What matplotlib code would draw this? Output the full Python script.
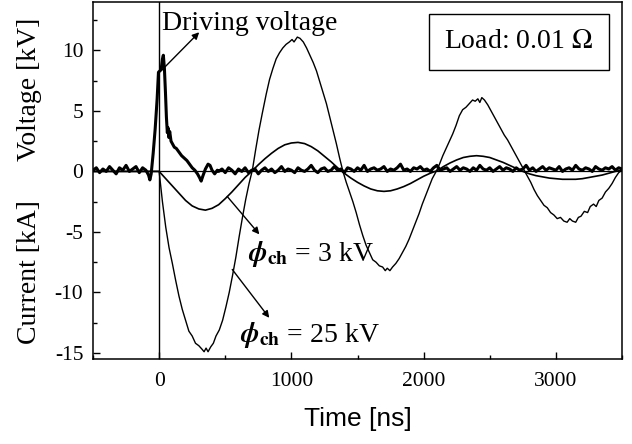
import matplotlib
matplotlib.use("Agg")
import matplotlib.pyplot as plt
import numpy as np

# current traces [kA]
t_25kv = [-500, -300, -100, 0, 25, 50, 75, 100, 125, 150, 175, 200, 225, 250, 275, 300, 325, 340, 355, 370,
          390, 410, 430, 455, 480, 505, 530, 555, 580, 605, 630, 655, 680, 705, 730, 755, 780, 810, 835, 860,
          885, 910, 935, 960, 985, 1005, 1020, 1045, 1065, 1090, 1115, 1140, 1165, 1190, 1215, 1240, 1265, 1290,
          1315, 1340, 1365, 1390, 1415, 1440, 1465, 1490, 1515, 1540, 1565, 1590, 1615, 1640, 1665, 1690, 1710,
          1725, 1745, 1765, 1790, 1815, 1840, 1865, 1890, 1915, 1940, 1965, 1990, 2015, 2040, 2065, 2095, 2120,
          2145, 2170, 2195, 2220, 2245, 2270, 2295, 2320, 2345, 2370, 2390, 2410, 2425, 2440, 2460, 2485, 2510,
          2535, 2560, 2585, 2610, 2635, 2660, 2685, 2710, 2735, 2760, 2785, 2810, 2835, 2860, 2885, 2910, 2935,
          2960, 2985, 3010, 3035, 3060, 3085, 3105, 3125, 3150, 3170, 3190, 3215, 3240, 3260, 3285, 3305, 3325,
          3350, 3375, 3400, 3425, 3450, 3475, 3500]
i_25kv = [0, 0, 0, 0, -2.5, -4.6, -6.3, -7.6, -9.0, -10.3, -11.4, -12.3, -13.2, -13.6, -14.2, -14.4, -14.7, -14.9, -14.6, -14.9,
          -14.5, -14.2, -13.6, -13.1, -12.3, -11.2, -10.0, -8.6, -7.1, -5.4, -3.8, -2.3, -1.0, 0.1, 1.8, 3.4, 4.8, 6.4, 7.6, 8.5,
          9.3, 9.8, 10.2, 10.5, 10.7, 10.9, 10.7, 11.1, 11.0, 10.7, 10.2, 9.6, 9.0, 8.3, 7.4, 6.5, 5.6, 4.5,
          3.4, 2.3, 1.1, 0.0, -0.9, -1.7, -2.5, -3.4, -4.4, -5.3, -6.1, -6.7, -7.3, -7.5, -7.8, -7.9, -8.2,
          -8.0, -8.2, -7.9, -7.6, -7.2, -6.7, -6.2, -5.6, -4.9, -4.2, -3.5, -2.7, -2.0, -1.3, -0.6, 0.0, 0.6,
          1.3, 1.9, 2.5, 3.1, 3.8, 4.6, 5.1, 5.3, 5.6, 5.9, 5.8, 6.0, 5.7, 6.1, 5.9, 5.5, 5.0,
          4.5, 4.0, 3.5, 3.0, 2.6, 2.1, 1.6, 1.1, 0.6, 0.1, -0.4, -0.9, -1.5, -2.0, -2.4, -2.8, -3.0,
          -3.4, -3.6, -3.9, -3.8, -4.1, -4.2, -3.9, -4.1, -4.2, -3.8, -3.7, -3.3, -3.4, -2.9, -2.7, -2.9, -2.4,
          -2.2, -1.7, -1.4, -1.0, -0.5, -0.1, 0.1]

t_3kv = [-500, -100] + list(range(0, 3501, 50))
i_3kv = [0, 0,
         0, -0.6, -1.2, -1.8, -2.4, -2.85, -3.1, -3.2, -3.05, -2.75, -2.25, -1.7, -1.1, -0.5, 0.0,
         0.55, 1.05, 1.5, 1.9, 2.2, 2.35, 2.4, 2.3, 2.05, 1.7, 1.25, 0.8, 0.3, -0.15, -0.55, -0.9,
         -1.2, -1.45, -1.6, -1.65, -1.6, -1.45, -1.25, -1.0, -0.7, -0.4, -0.15, 0.05, 0.4, 0.7, 0.95,
         1.15, 1.25, 1.3, 1.25, 1.15, 0.95, 0.75, 0.5, 0.25, 0.0, -0.2, -0.35, -0.45, -0.55, -0.6,
         -0.65, -0.65, -0.65, -0.6, -0.5, -0.4, -0.3, -0.15, 0.0, 0.1]

# driving voltage [kV]: noisy baseline before and after the pulse
v_pre = [0.1, 0.3, -0.1, 0.2, 0.0, 0.4, 0.1, -0.2, 0.3, 0.1, 0.5, 0.0, 0.2, 0.4, -0.1, 0.3]
t_pulse = [-100, -80, -70, -60, -45, -30, -15, -5, 5, 15, 25, 32, 40, 48, 55, 62, 68, 74, 80, 90,
           100, 115, 130, 150, 170, 190, 210, 230, 250, 270, 290, 305, 318, 330, 350, 370, 385, 400, 420, 440]
v_pulse = [0.1, -0.3, -0.7, -0.2, 1.5, 3.5, 6.0, 8.2, 8.3, 8.4, 9.3, 9.6, 8.5, 6.5, 4.5, 3.2, 3.6, 2.8, 3.3, 2.5,
           2.3, 2.0, 1.9, 1.6, 1.3, 1.1, 0.9, 0.6, 0.3, 0.1, -0.2, -0.5, -0.8, -0.4, 0.2, 0.6, 0.5, 0.1, -0.2, 0.1]
v_post = [0.0, 0.2, -0.1, 0.3, 0.1, -0.2, 0.2, 0.0, 0.3, -0.1,
          0.1, 0.2, -0.2, 0.1, 0.3, 0.0, 0.2, -0.1, 0.1, 0.4,
          0.0, 0.2, 0.1, -0.1, 0.3, 0.1, 0.0, 0.2, 0.5, 0.1,
          -0.1, 0.2, 0.3, 0.0, 0.1, 0.4, 0.1, 0.2, -0.1, 0.3,
          0.2, 0.0, 0.3, 0.1, 0.5, 0.0, 0.2, 0.3, 0.1, 0.2,
          0.4, 0.0, 0.2, 0.1, 0.3, 0.6, 0.1, 0.2, 0.0, 0.3,
          0.2, 0.4, 0.1, 0.2, 0.0, 0.3, 0.5, 0.1, 0.2, 0.3,
          0.0, 0.2, 0.4, 0.1, 0.3, 0.2, 0.0, 0.3, 0.1, 0.5,
          0.2, 0.1, 0.3, 0.0, 0.2, 0.4, 0.1, 0.3, 0.2, 0.0,
          0.3, 0.1, 0.2, 0.5, 0.1, 0.3, 0.0, 0.2, 0.4, 0.1,
          0.3, 0.2, 0.1, 0.4, 0.0, 0.2, 0.3, 0.1, 0.5, 0.2,
          0.1, 0.3, 0.2, 0.0, 0.4, 0.2, 0.1, 0.3, 0.2, 0.4,
          0.1, 0.3, 0.2]

t_drive = list(np.arange(-500, -124, 25)) + t_pulse + list(np.arange(450, 3501, 25))
v_drive = v_pre + v_pulse + v_post

plt.rcParams['font.family'] = ['Liberation Serif', 'DejaVu Serif']
plt.rcParams['mathtext.fontset'] = 'stix'
plt.rcParams['axes.unicode_minus'] = False

fig = plt.figure(figsize=(6.32, 4.44), dpi=100)
ax = fig.add_axes([93 / 632, 1 - 359 / 444, 529 / 632, 357 / 444])

ax.axhline(0, color='k', lw=0.9)
ax.axvline(0, color='k', lw=1.0)
ax.plot(t_drive, v_drive, color='k', lw=2.2)
ax.plot(t_3kv, i_3kv, color='k', lw=1.2)
ax.plot(t_25kv, i_25kv, color='k', lw=1.0)

ax.set_xlim(-500, 3500)
ax.set_ylim(-15.5, 14)
ax.set_xticks([0, 1000, 2000, 3000])
ax.set_xticks([-500, 500, 1500, 2500, 3500], minor=True)
ax.set_yticks([-15, -10, -5, 0, 5, 10])
ax.set_yticks(np.arange(-12.5, 14, 5), minor=True)
ax.tick_params(which='both', direction='in', top=False, right=False, labelsize=15.5, width=1.0)
ax.tick_params(which='major', length=5)
ax.tick_params(which='minor', length=3)
ax.tick_params(axis='x', pad=9)
ax.tick_params(axis='y', pad=7)
for s in ax.spines.values():
    s.set_linewidth(1.1)

fig.text(30 / 632, 1 - 89 / 444, 'Voltage [kV]', rotation=90, ha='center', va='center', fontsize=20)
fig.text(30 / 632, 1 - 272 / 444, 'Current [kA]', rotation=90, ha='center', va='center', fontsize=20)
ax.set_xlabel('Time [ns]', family='Liberation Sans', fontsize=19, labelpad=12)

arw = dict(arrowstyle='-|>', color='k', lw=1.0, mutation_scale=10, shrinkA=0, shrinkB=0)
ax.annotate('', xy=(303, 11.5), xytext=(23, 8.4), arrowprops=arw)
ax.text(25, 12.2, 'Driving voltage', fontsize=20, ha='left', va='center')
ax.annotate('', xy=(758, -5.2), xytext=(515, -2.07), arrowprops=arw)
ax.text(670, -7.4, r'$\boldsymbol{\phi}_{\mathbf{ch}}$ = 3 kV', fontsize=20, ha='left', va='baseline')
ax.annotate('', xy=(833, -12.1), xytext=(553, -8.1), arrowprops=arw)
ax.text(610, -14.1, r'$\boldsymbol{\phi}_{\mathbf{ch}}$ = 25 kV', fontsize=20, ha='left', va='baseline')

ax.text(2720, 10.7, r'Load: 0.01 $\Omega$', fontsize=20, ha='center', va='center',
        bbox=dict(boxstyle='square,pad=0.55', fc='white', ec='k', lw=1.0))

fig.savefig('out.png', dpi=100)
